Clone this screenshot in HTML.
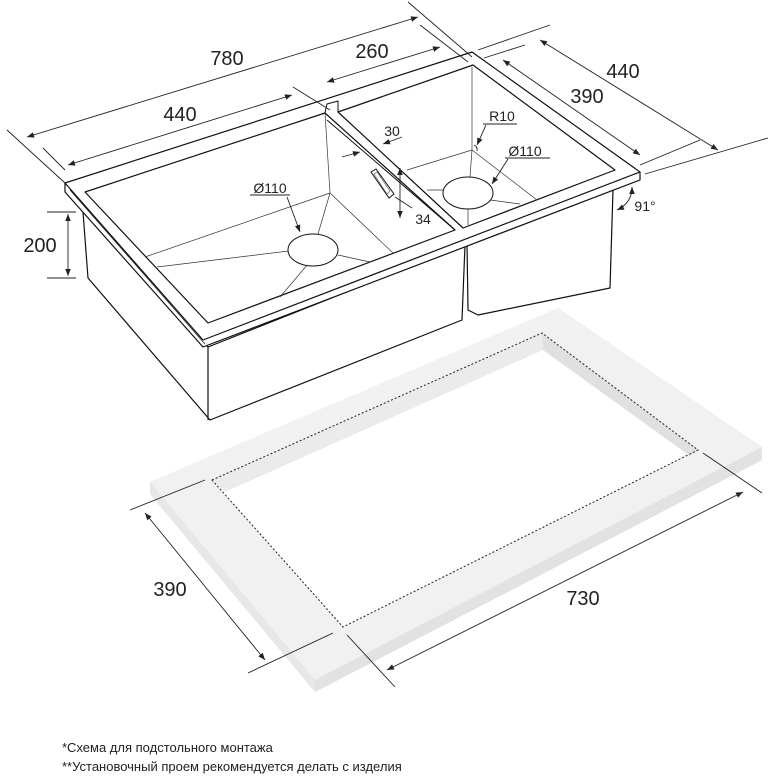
<!DOCTYPE html>
<html><head><meta charset="utf-8"><style>
html,body{margin:0;padding:0;background:#fff;}
svg{display:block}
text{font-family:"Liberation Sans","DejaVu Sans",sans-serif;fill:#222}
</style></head><body>
<svg width="768" height="778" viewBox="0 0 768 778" xmlns="http://www.w3.org/2000/svg">
<defs>
<marker id="a" viewBox="0 0 10 10" refX="10" refY="5" markerWidth="9" markerHeight="7" orient="auto-start-reverse" markerUnits="userSpaceOnUse"><path d="M0,1 L10,5 L0,9 Z" fill="#222"/></marker>
</defs>

<!-- countertop slab -->
<polygon points="150,482 558,308 762,447 762,460 315,692 150,494" fill="#e9e9e9"/>
<polygon points="150,482 558,308 762,447 315,680" fill="#f1f1f1"/>
<polygon points="150,482 315,680 315,692 150,494" fill="#e7e7e7"/>
<polygon points="315,680 762,447 762,460 315,692" fill="#e2e2e2"/>
<polygon points="212,480 542,333 698,450 343,627" fill="#fff"/>
<polygon points="212,480 542,333 543,350 225,492" fill="#ebebeb"/>
<polygon points="542,333 698,450 690,456 543,350" fill="#e0e0e0"/>
<polygon points="212,480 542,333 698,450 343,627" fill="none" stroke="#222" stroke-width="1" stroke-dasharray="2,2"/>

<!-- countertop dims -->
<g stroke="#222" stroke-width="0.9" fill="none">
<line x1="130" y1="510" x2="205" y2="480"/>
<line x1="248" y1="673" x2="333" y2="633"/>
<line x1="145" y1="513" x2="265" y2="660" marker-start="url(#a)" marker-end="url(#a)"/>
<line x1="347" y1="635" x2="395" y2="687"/>
<line x1="703" y1="453" x2="762" y2="493"/>
<line x1="387" y1="670" x2="743" y2="492" marker-start="url(#a)" marker-end="url(#a)"/>
</g>
<text x="170" y="596" font-size="20" text-anchor="middle">390</text>
<text x="583" y="605" font-size="20" text-anchor="middle">730</text>

<!-- sink -->
<g stroke="#111" stroke-width="1.2" fill="none" stroke-linejoin="round">
<polygon points="83,212 88,278 210,420 462,320 465,245 208,347" fill="#fff"/>
<line x1="208" y1="347" x2="208" y2="420"/>
<polyline points="467,243 468,310 478,315 610,288 613,190" fill="#fff"/>
<polygon points="65,183 472,52 640,172 640,180 203,347 65,192" fill="#fff"/>
<polyline points="65,183 203,340 640,172"/>
<line x1="70" y1="190" x2="205" y2="344" stroke-width="0.7"/>
<polygon points="85,192 325,113 455,230 208,323" fill="#fff"/>
<polygon points="338,112 473,65 615,170 463,228" fill="#fff"/>
<polyline points="325,113 327,104 338,101 338,112" stroke-width="1"/>
<line x1="327" y1="120" x2="455" y2="230" stroke-width="1"/>
</g>
<g stroke="#333" stroke-width="0.7" fill="none">
<line x1="325" y1="113" x2="330" y2="193"/>
<line x1="145" y1="257" x2="330" y2="193"/>
<line x1="330" y1="193" x2="393" y2="253"/>
<line x1="157" y1="267" x2="297" y2="250"/>
<line x1="330" y1="193" x2="318" y2="234"/>
<line x1="308" y1="264" x2="280" y2="297"/>
<line x1="338" y1="255" x2="370" y2="262"/>
<line x1="472" y1="67" x2="472" y2="150"/>
<line x1="407" y1="170" x2="472" y2="150"/>
<line x1="472" y1="150" x2="537" y2="200"/>
<line x1="427" y1="190" x2="445" y2="190"/>
<line x1="472" y1="150" x2="470" y2="177"/>
<line x1="490" y1="200" x2="520" y2="204"/>
<line x1="468" y1="209" x2="468" y2="225"/>
</g>
<ellipse cx="313" cy="250" rx="25" ry="16" fill="#fff" stroke="#111" stroke-width="1"/>
<ellipse cx="468" cy="193" rx="25" ry="16" fill="#fff" stroke="#111" stroke-width="1"/>
<polygon points="371,172 376,169 394,194 389,198" fill="#fff" stroke="#111" stroke-width="1"/>
<polygon points="374,174 377,172 390,191 387,194" fill="none" stroke="#555" stroke-width="0.6"/>

<!-- sink dims -->
<g stroke="#222" stroke-width="0.9" fill="none">
<line x1="7" y1="130" x2="65" y2="183"/>
<line x1="43" y1="148" x2="65" y2="170"/>
<line x1="408" y1="2" x2="472" y2="57"/>
<line x1="420" y1="25" x2="468" y2="62"/>
<line x1="27" y1="137" x2="418" y2="17" marker-start="url(#a)" marker-end="url(#a)"/>
<line x1="68" y1="165" x2="292" y2="95" marker-start="url(#a)" marker-end="url(#a)"/>
<line x1="293" y1="87" x2="330" y2="110"/>
<line x1="327" y1="82" x2="440" y2="47" marker-start="url(#a)" marker-end="url(#a)"/>
<line x1="478" y1="50" x2="550" y2="25"/>
<line x1="484" y1="58" x2="525" y2="45"/>
<line x1="640" y1="165" x2="700" y2="140"/>
<line x1="645" y1="174" x2="768" y2="138"/>
<line x1="540" y1="40" x2="718" y2="150" marker-start="url(#a)" marker-end="url(#a)"/>
<line x1="503" y1="60" x2="640" y2="155" marker-start="url(#a)" marker-end="url(#a)"/>
<line x1="47" y1="212" x2="76" y2="212"/>
<line x1="47" y1="278" x2="76" y2="278"/>
<line x1="68" y1="214" x2="68" y2="276" marker-start="url(#a)" marker-end="url(#a)"/>
<line x1="250" y1="195" x2="290" y2="195"/>
<line x1="287" y1="197" x2="300" y2="232" marker-end="url(#a)"/>
<line x1="483" y1="124" x2="517" y2="124"/>
<line x1="486" y1="125" x2="477" y2="145" marker-end="url(#a)"/>
<path d="M474,145 q4,2 3,6"/>
<line x1="505" y1="158" x2="550" y2="158"/>
<line x1="508" y1="159" x2="492" y2="184" marker-end="url(#a)"/>
<line x1="342" y1="157" x2="360" y2="152" marker-end="url(#a)"/>
<line x1="402" y1="137" x2="383" y2="144" marker-end="url(#a)"/>
<line x1="400" y1="168" x2="400" y2="180" marker-start="url(#a)"/>
<line x1="400" y1="205" x2="400" y2="218" marker-end="url(#a)"/>
<line x1="400" y1="180" x2="400" y2="205"/>
<line x1="395" y1="197" x2="412" y2="208"/>
<path d="M632,187 Q632,203 617,210" marker-start="url(#a)" marker-end="url(#a)"/>
</g>
<g font-size="20" text-anchor="middle">
<text x="227" y="65">780</text>
<text x="180" y="121">440</text>
<text x="372" y="58">260</text>
<text x="623" y="78">440</text>
<text x="587" y="103">390</text>
<text x="40" y="252">200</text>
</g>
<g font-size="14" text-anchor="middle">
<text x="270" y="193">Ø110</text>
<text x="525" y="156">Ø110</text>
<text x="502" y="121">R10</text>
<text x="392" y="136">30</text>
<text x="423" y="224">34</text>
<text x="645" y="211">91°</text>
</g>

<text x="62" y="752" font-size="13">*Схема для подстольного монтажа</text>
<text x="62" y="771" font-size="13">**Установочный проем рекомендуется делать с изделия</text>
</svg>
</body></html>
